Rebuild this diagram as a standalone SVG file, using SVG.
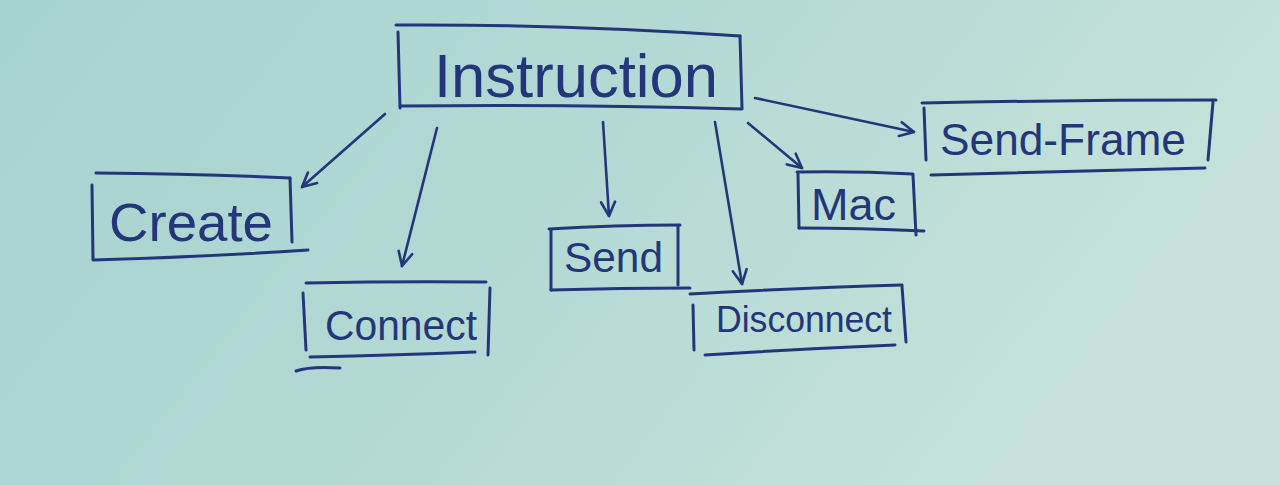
<svg xmlns="http://www.w3.org/2000/svg" width="1280" height="485" viewBox="0 0 1280 485">
<defs>
<linearGradient id="bg" x1="0" y1="0" x2="1" y2="0.3">
<stop offset="0" stop-color="#a6d2d0"/>
<stop offset="0.5" stop-color="#b3d9d4"/>
<stop offset="1" stop-color="#c6e2da"/>
</linearGradient>
<marker id="arr" viewBox="0 0 20 20" refX="18" refY="10" markerWidth="20" markerHeight="20" markerUnits="userSpaceOnUse" orient="auto">
<path d="M4,3 L18,10 L4,17" fill="none" stroke="#24367a" stroke-width="2.6" stroke-linecap="round" stroke-linejoin="round"/>
</marker>
<style>
.ink{fill:none;stroke:#24367a;stroke-width:3;stroke-linecap:round;stroke-linejoin:round}
.lbl{font-family:"Liberation Sans","Open Sans",sans-serif;fill:#24367a}
.con{fill:none;stroke:#24367a;stroke-width:2.6;stroke-linecap:round}
</style>
</defs>
<rect width="1280" height="485" fill="url(#bg)"/>

<g id="instruction">
<path class="ink" d="M396,25 Q560,24 740,36"/>
<path class="ink" d="M398,32 L400,108"/>
<path class="ink" d="M401,106 Q570,104 742,109"/>
<path class="ink" d="M740,36 L742,108"/>
<text class="lbl" x="434" y="97" font-size="61" textLength="284" lengthAdjust="spacingAndGlyphs">Instruction</text>
</g>

<g id="create">
<path class="ink" d="M96,173 Q200,174 290,178"/>
<path class="ink" d="M92,185 L93,259"/>
<path class="ink" d="M93,260 Q200,257 308,250"/>
<path class="ink" d="M290,178 L292,242"/>
<text class="lbl" x="109" y="241" font-size="54" textLength="164" lengthAdjust="spacingAndGlyphs">Create</text>
</g>

<g id="connect">
<path class="ink" d="M306,283 Q400,281 486,282"/>
<path class="ink" d="M303,293 L306,350"/>
<path class="ink" d="M490,288 L488,355"/>
<path class="ink" d="M310,357 Q400,355 475,352"/>
<path class="ink" d="M340,368 Q310,366 296,371"/>
<text class="lbl" x="325" y="340" font-size="42" textLength="152" lengthAdjust="spacingAndGlyphs">Connect</text>
</g>

<g id="send">
<path class="ink" d="M549,229 Q615,225 680,225"/>
<path class="ink" d="M551,230 L551,290"/>
<path class="ink" d="M551,290 Q620,288 690,288"/>
<path class="ink" d="M678,226 L678,285"/>
<text class="lbl" x="564" y="272" font-size="42" textLength="99" lengthAdjust="spacingAndGlyphs">Send</text>
</g>

<g id="disconnect">
<path class="ink" d="M690,294 Q800,288 902,285"/>
<path class="ink" d="M693,305 L694,350"/>
<path class="ink" d="M705,355 Q800,349 895,345"/>
<path class="ink" d="M902,286 L906,342"/>
<text class="lbl" x="716" y="332" font-size="36" textLength="176" lengthAdjust="spacingAndGlyphs">Disconnect</text>
</g>

<g id="mac">
<path class="ink" d="M797,172 Q855,171 913,174"/>
<path class="ink" d="M798,174 L799,228"/>
<path class="ink" d="M799,228 Q860,228 924,231"/>
<path class="ink" d="M913,175 L916,235"/>
<text class="lbl" x="811" y="220" font-size="44" textLength="85" lengthAdjust="spacingAndGlyphs">Mac</text>
</g>

<g id="send-frame">
<path class="ink" d="M922,103 Q1070,100 1216,100"/>
<path class="ink" d="M924,108 L926,160"/>
<path class="ink" d="M931,175 Q1070,171 1205,168"/>
<path class="ink" d="M1213,102 L1208,160"/>
<text class="lbl" x="940" y="155" font-size="44" textLength="246" lengthAdjust="spacingAndGlyphs">Send-Frame</text>
</g>

<g id="connectors">
<path class="con" d="M385,114 L302,187" marker-end="url(#arr)"/>
<path class="con" d="M437,128 L402,266" marker-end="url(#arr)"/>
<path class="con" d="M603,122 L609,216" marker-end="url(#arr)"/>
<path class="con" d="M715,122 L742,284" marker-end="url(#arr)"/>
<path class="con" d="M748,123 L802,168" marker-end="url(#arr)"/>
<path class="con" d="M755,98 L914,132" marker-end="url(#arr)"/>
</g>
</svg>
